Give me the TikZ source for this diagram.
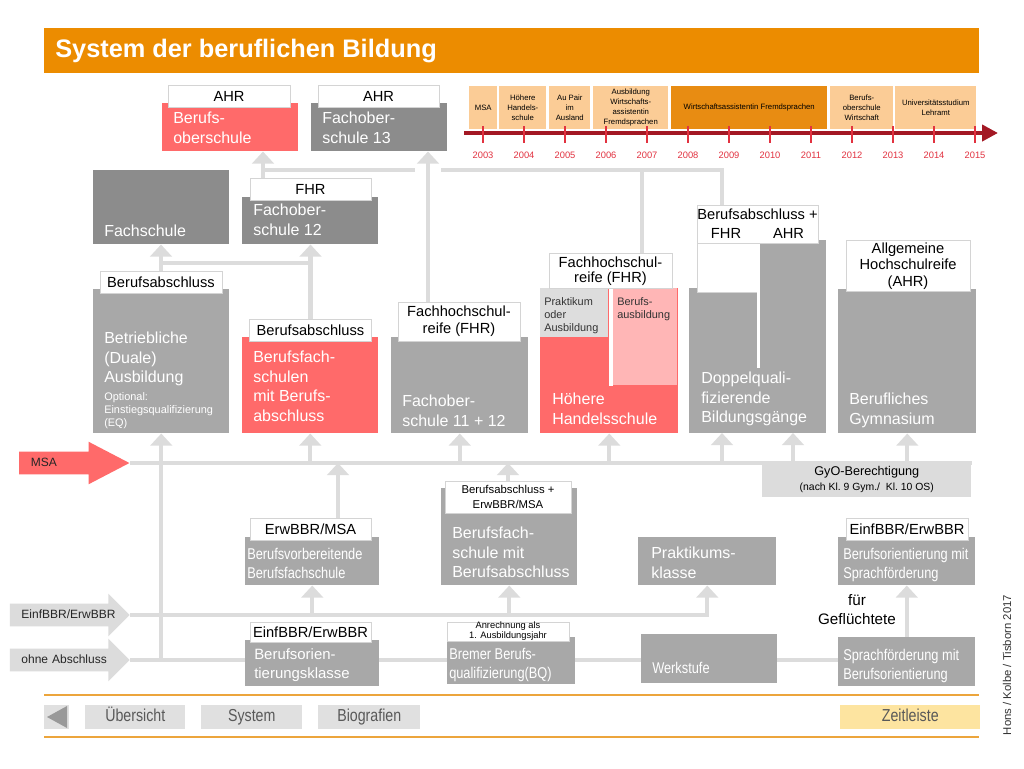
\documentclass[tikz,border=0pt]{standalone}
\usepackage{fontspec}
\setmainfont{Liberation Sans}
\newfontfamily\narrowfont[FakeStretch=0.82]{Liberation Sans}
\usetikzlibrary{arrows.meta,shapes.arrows,backgrounds}

\definecolor{titleorange}{RGB}{236,140,0}
\definecolor{boxred}{RGB}{255,106,106}
\definecolor{boxpink}{RGB}{255,182,182}
\definecolor{darkbox}{RGB}{140,140,140}
\definecolor{midbox}{RGB}{168,168,168}
\definecolor{lightbox}{RGB}{221,221,221}
\definecolor{connect}{RGB}{220,220,220}
\definecolor{labborder}{RGB}{212,212,212}
\definecolor{tlpale}{RGB}{251,204,150}
\definecolor{tldark}{RGB}{232,140,18}
\definecolor{tlline}{RGB}{163,24,36}
\definecolor{tlyear}{RGB}{226,50,64}
\definecolor{navgray}{RGB}{224,224,224}
\definecolor{navyellow}{RGB}{253,228,160}
\definecolor{rulegold}{RGB}{236,165,60}

\begin{document}
\begin{tikzpicture}[x=0.75pt,y=-0.75pt,
    sz/.style 2 args={minimum width=#1*0.75pt,minimum height=#2*0.75pt}]
  \tikzstyle{box}=[rectangle,anchor=north west,inner sep=0pt,draw=none]
  \tikzstyle{lab}=[rectangle,fill=white,draw=labborder,line width=0.6pt,inner sep=0pt,
                   align=center,font=\fontsize{11}{12.5}\selectfont]
  \tikzstyle{txt}=[anchor=north west,inner sep=0pt,align=left,text=white,
                   font=\fontsize{12}{14.6}\selectfont]
  \tikzstyle{small}=[anchor=north west,inner sep=0pt,align=left,font=\fontsize{8.2}{10}\selectfont]
  \tikzstyle{narrow}=[anchor=north west,inner sep=0pt,align=left,text=white,
                      font=\narrowfont\fontsize{11.7}{14.3}\selectfont]
  \tikzstyle{conn}=[draw=connect,line width=3.2pt]
  \tikzstyle{up}=[conn,-{Triangle[width=16pt,length=9pt]}]
  \tikzstyle{blockarrow}=[single arrow,single arrow head extend=7.5pt,anchor=tip,
                          inner xsep=8.5pt,inner ysep=4.1pt,text height=6.5pt,text depth=1.8pt,
                          align=left,text=black!85,font=\fontsize{9}{10}\selectfont]
  \tikzstyle{tlbox}=[box,fill=tlpale,align=center,font=\fontsize{5.8}{7.5}\selectfont]
  \tikzstyle{navbtn}=[box,fill=navgray,text=black!65,text height=9pt,text depth=2.5pt,
                      font=\narrowfont\fontsize{13}{14}\selectfont]

  \useasboundingbox (0,0) rectangle (1024,768);

  % title
  \node[box,fill=titleorange,sz={935}{45}] (title) at (44,28) {};
  \node[anchor=west,inner sep=0pt,text=white,font=\bfseries\fontsize{19}{22}\selectfont]
       (titlet) at (55,51) {System der beruflichen Bildung};

  % timeline
  \node[tlbox,sz={28}{43}] (t1) at (469,86) {MSA};
  \node[tlbox,sz={47}{43}] (t2) at (499,86) {Höhere\\Handels-\\schule};
  \node[tlbox,sz={41}{43}] (t3) at (549,86) {Au Pair\\im\\Ausland};
  \node[tlbox,sz={75}{43}] (t4) at (593,86) {Ausbildung\\Wirtschafts-\\assistentin\\Fremdsprachen};
  \node[tlbox,fill=tldark,sz={156}{43}] (t5) at (671,86) {Wirtschaftsassistentin Fremdsprachen};
  \node[tlbox,sz={63}{43}] (t6) at (830,86) {Berufs-\\oberschule\\Wirtschaft};
  \node[tlbox,sz={81}{43}] (t7) at (895,86) {Universitätsstudium\\Lehramt};
  \coordinate (tl0) at (464,133);
  \coordinate (tl1) at (998,133);
  \draw[tlline,line width=3pt,-{Triangle[width=12pt,length=12pt]}] (tl0) -- (tl1);
  \foreach \yr [count=\i from 0] in {2003,...,2015} {
    \draw[tlyear,line width=1.1pt] (483+41*\i,126) -- (483+41*\i,143);
    \node[text=tlyear,inner sep=0pt,font=\fontsize{7}{8}\selectfont] (y\yr) at (483+41*\i,155) {\yr};
  }

  % upper rows
  \node[box,fill=boxred,sz={136}{48}] (bos) at (162,103) {};
  \node[lab,sz={122}{22}] (bosl) at (229,96) {AHR};
  \node[txt] (bost) at (173,112) {Berufs-\\oberschule};

  \node[box,fill=darkbox,sz={136}{48}] (fos13) at (311,103) {};
  \node[lab,sz={121}{22}] (fos13l) at (378.5,96) {AHR};
  \node[txt] (fos13t) at (322,112) {Fachober-\\schule 13};

  \node[box,fill=darkbox,sz={136}{74}] (fs) at (93,170) {};
  \node[txt,anchor=base west] (fst) at (104,236) {Fachschule};

  \node[box,fill=darkbox,sz={136}{47}] (fos12) at (242,197) {};
  \node[lab,sz={121}{22}] (fos12l) at (310.5,189) {FHR};
  \node[txt] (fos12t) at (253,204) {Fachober-\\schule 12};

  % third row
  \node[box,fill=midbox,sz={136}{144}] (betr) at (93,289) {};
  \node[lab,sz={122}{22}] (betrl) at (161,282) {Berufsabschluss};
  \node[txt] (betrt) at (104,332) {Betriebliche\\(Duale)\\Ausbildung};
  \node[small,text=white] (betrs) at (104,392) {Optional:\\Einstiegsqualifizierung\\(EQ)};

  \node[box,fill=boxred,sz={136}{96}] (bfs) at (242,337) {};
  \node[lab,sz={122}{22}] (bfsl) at (310.5,330) {Berufsabschluss};
  \node[txt] (bfst) at (253,351) {Berufsfach-\\schulen\\mit Berufs-\\abschluss};

  \node[box,fill=midbox,sz={137}{96}] (fos11) at (391,337) {};
  \node[lab,sz={122}{39}] (fos11l) at (459,321.5) {Fachhochschul-\\reife (FHR)};
  \node[txt] (fos11t) at (402,395) {Fachober-\\schule 11 + 12};

  \node[box,fill=boxred,sz={138}{145}] (hhs) at (540,288) {};
  \node[box,fill=lightbox,sz={68}{49}] (prakt) at (540,288) {};
  \node[box,fill=boxpink,sz={64}{97}] (ausb) at (613,288) {};
  \draw[white,line width=3.2pt] ([xshift=-1.6pt]ausb.north west) -- ([xshift=-1.6pt]ausb.south west);
  \node[lab,sz={123}{35},font=\fontsize{11}{11.5}\selectfont] (hhsl) at (610.5,271) {Fachhochschul-\\reife (FHR)};
  \node[small,text=black!80] (praktt) at (544,297) {Praktikum\\oder\\Ausbildung};
  \node[small,text=black!80] (ausbt) at (617,297) {Berufs-\\ausbildung};
  \node[txt] (hhst) at (552,393) {Höhere\\Handelsschule};

  \node[box,fill=midbox,sz={137}{145}] (dq) at (689,288) {};
  \node[box,fill=midbox,sz={66}{48}] (dqx) at (760,240) {};
  \node[box,fill=white,draw=labborder,line width=0.6pt,sz={60}{87}] (dqw) at (697,205) {};
  \coordinate (dqcut) at (758.5,368);
  \draw[white,line width=2.4pt] (dqcut |- dqx.north) -- (dqcut);
  \node[lab,sz={121}{38},font=\fontsize{11}{14}\selectfont] (dql) at (757.5,224) {Berufsabschluss +\\FHR\hspace{24pt}AHR};
  \node[txt] (dqt) at (701,372) {Doppelquali-\\fizierende\\Bildungsgänge};

  \node[box,fill=midbox,sz={138}{144}] (gym) at (838,289) {};
  \node[lab,sz={124}{51}] (gyml) at (908,266) {Allgemeine\\Hochschulreife\\(AHR)};
  \node[txt] (gymt) at (849,393) {Berufliches\\Gymnasium};

  % entry arrows
  \node[blockarrow,fill=boxred,single arrow tip angle=55,text width=49pt] (msa) at (130,463) {MSA};
  \node[blockarrow,fill=connect,text width=64pt] (einf) at (130,615) {EinfBBR/ErwBBR};
  \node[blockarrow,fill=connect,text width=64pt] (ohne) at (130,660) {\mbox{ohne Abschluss}};

  \node[box,fill=connect,sz={209}{35},align=center,font=\fontsize{9.5}{11}\selectfont] (gyo) at (762,462)
       {GyO-Berechtigung\\{\fontsize{7.8}{9}\selectfont (nach Kl.~9 Gym./~~Kl.~10 OS)}};

  % lower rows
  \node[box,fill=midbox,sz={134}{48}] (bvb) at (245,537) {};
  \node[lab,sz={121}{22}] (bvbl) at (310.5,529) {ErwBBR/MSA};
  \node[narrow] (bvbt) at (247,548) {Berufsvorbereitende\\Berufsfachschule};

  \node[box,fill=midbox,sz={136}{97}] (bfs2) at (441,488) {};
  \node[lab,sz={126}{32},font=\fontsize{8.5}{11}\selectfont] (bfs2l) at (508,497) {Berufsabschluss +\\ErwBBR/MSA};
  \node[txt] (bfs2t) at (452,527) {Berufsfach-\\schule mit\\Berufsabschluss};

  \node[box,fill=midbox,sz={138}{48}] (prak) at (638,537) {};
  \node[txt] (prakt2) at (651,547) {Praktikums-\\klasse};

  \node[box,fill=midbox,sz={137}{48}] (boms) at (838,537) {};
  \node[lab,sz={122}{22}] (bomsl) at (907,529) {EinfBBR/ErwBBR};
  \node[narrow] (bomst) at (843,548) {Berufsorientierung mit\\Sprachförderung};

  \node[align=center,inner sep=0pt,font=\fontsize{11.4}{14.3}\selectfont] (fluecht) at (857,610) {für\\Geflüchtete};

  \node[box,fill=midbox,sz={134}{46}] (bok) at (245,640) {};
  \node[lab,sz={121}{20}] (bokl) at (310.5,632) {EinfBBR/ErwBBR};
  \node[txt,font=\fontsize{11.2}{14.3}\selectfont] (bokt) at (254,648) {Berufsorien-\\tierungsklasse};

  \node[box,fill=midbox,sz={128}{47}] (bq) at (447,637) {};
  \node[lab,sz={122}{19},font=\fontsize{7}{7.5}\selectfont] (bql) at (508,631.5) {Anrechnung als\\1. Ausbildungsjahr};
  \node[narrow] (bqt) at (449,648) {Bremer Berufs-\\qualifizierung(BQ)};

  \node[box,fill=midbox,sz={136}{49}] (werk) at (641,634) {};
  \node[narrow] (werkt) at (652,662) {Werkstufe};

  \node[box,fill=midbox,sz={137}{49}] (smb) at (838,637) {};
  \node[narrow] (smbt) at (843,649) {Sprachförderung mit\\Berufsorientierung};

  % navigation
  \draw[rulegold,line width=1.6pt] (44,695) -- (979,695);
  \draw[rulegold,line width=1.6pt] (44,737) -- (979,737);
  \node[box,fill=navgray,sz={25}{24}] (back) at (44,705) {};
  \fill[black!40] (47,717) -- (67,706) -- (67,728) -- cycle;
  \node[navbtn,sz={100}{24}] (nav1) at (85,705) {Übersicht};
  \node[navbtn,sz={101}{24}] (nav2) at (201,705) {System};
  \node[navbtn,sz={102}{24}] (nav3) at (318,705) {Biografien};
  \node[navbtn,fill=navyellow,sz={140}{24}] (nav4) at (840,705) {Zeitleiste};

  \node[rotate=90,inner sep=0pt,text=black!80,font=\fontsize{8.5}{10}\selectfont] (credit) at (1007,665)
       {Hons / Kolbe / Tisborn 2017};

  % connectors behind the boxes
  \begin{pgfonlayer}{background}
    \fill[white] (0,0) rectangle (1024,768);
    \draw[up] (betrl.north) -- (betrl.north |- fs.south);
    \coordinate (jA) at (310.5,263);
    \draw[conn] (jA) -- (jA -| betrl.north);
    \draw[up] (bfsl.north) -- (bfsl.north |- fos12.south);
    \coordinate (jB) at (428,302);
    \draw[up] (jB) -- (jB |- fos13.south);
    \coordinate (jC) at (263,170);
    \draw[up] (jC |- fos12l.north) -- (jC |- bos.south);
    \coordinate (gapL) at (415,170);
    \coordinate (gapR) at (441,170);
    \coordinate (jD) at (722,170);
    \coordinate (jE) at (642,170);
    \draw[conn] (jC) -- (gapL);
    \draw[conn] (gapR) -- (jD) -- (jD |- dql.north);
    \draw[conn] (jE) -- (jE |- hhsl.north);

    \draw[conn] (msa.tip) -- (msa.tip -| gyo.north east);
    \foreach \b in {bfs,fos11,hhs,gym}
      \draw[up] (\b.south |- msa.tip) -- (\b.south);
    \coordinate (dq1) at (722,433);
    \coordinate (dq2) at (793,433);
    \draw[up] (dq1 |- msa.tip) -- (dq1);
    \draw[up] (dq2 |- msa.tip) -- (dq2);
    \coordinate (jF) at (338,518);
    \draw[up] (jF) -- (jF |- msa.tip);
    \draw[up] (bfs2l.north) -- (bfs2l.north |- msa.tip);

    \draw[up] (betr.south |- ohne.tip) -- (betr.south);
    \draw[up] (einf.tip) -- (einf.tip -| prak.south) -- (prak.south);
    \foreach \b in {bvb,bfs2}
      \draw[up] (\b.south |- einf.tip) -- (\b.south);
    \draw[conn] (ohne.tip) -- (ohne.tip -| smb.west);
    \draw[up] (smb.north) -- (boms.south);
  \end{pgfonlayer}
\end{tikzpicture}
\end{document}
